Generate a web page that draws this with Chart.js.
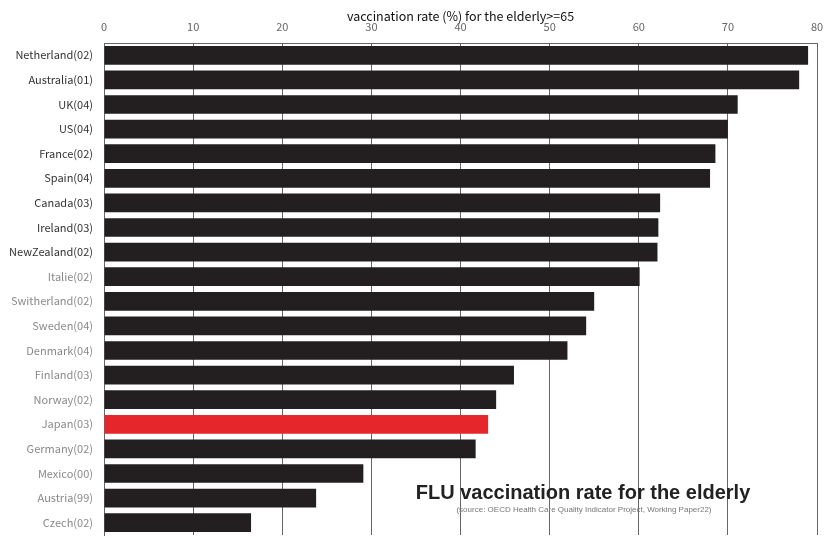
<!DOCTYPE html>
<html>
<head>
<meta charset="utf-8">
<script src="https://cdn.jsdelivr.net/npm/chart.js@4"></script>
<style>
  html, body { margin: 0; padding: 0; background: #fff; }
  #wrap { position: relative; width: 832px; height: 538px; }
  #title { position: absolute; left: 400px; width: 366px; top: 481px; text-align: center;
           font: bold 20px "Liberation Sans", Arial, sans-serif; color: #222; white-space: nowrap; }
  #sub { position: absolute; left: 434px; width: 300px; top: 505px; text-align: center;
         font: 8px "Liberation Sans", Arial, sans-serif; color: #777; white-space: nowrap; }
</style>
</head>
<body>
<div id="wrap">
  <canvas id="c" width="832" height="538"></canvas>
  <div id="title">FLU vaccination rate for the elderly</div>
  <div id="sub">(source: OECD Health Care Quality Indicator Project, Working Paper22)</div>
</div>
<script>
const countries = ["Netherland(02)", "Australia(01)", "UK(04)", "US(04)", "France(02)", "Spain(04)",
  "Canada(03)", "Ireland(03)", "NewZealand(02)", "Italie(02)", "Switherland(02)", "Sweden(04)",
  "Denmark(04)", "Finland(03)", "Norway(02)", "Japan(03)", "Germany(02)", "Mexico(00)",
  "Austria(99)", "Czech(02)"];
const rates = [79.0, 78.0, 71.1, 70.0, 68.6, 68.0, 62.4, 62.2, 62.1, 60.1, 55.0, 54.1,
  52.0, 46.0, 44.0, 43.1, 41.7, 29.1, 23.8, 16.5];
const xTicks = [0, 10, 20, 30, 40, 50, 60, 70, 80];
const highlight = "Japan(03)";
const axisTitle = "vaccination rate (%) for the elderly>=65";

const barColors = countries.map(c => c === highlight ? "#e5262b" : "#231f20");

new Chart(document.getElementById("c"), {
  type: "bar",
  data: {
    labels: countries,
    datasets: [{
      data: rates,
      backgroundColor: barColors,
      borderWidth: 0,
      categoryPercentage: 1,
      barPercentage: 0.76
    }]
  },
  options: {
    indexAxis: "y",
    responsive: false,
    animation: false,
    layout: { padding: { left: 0, right: 15, top: 0, bottom: 3 } },
    plugins: { legend: { display: false }, tooltip: { enabled: false } },
    scales: {
      x: {
        position: "top",
        min: 0, max: 80,
        afterBuildTicks: s => { s.ticks = xTicks.map(v => ({ value: v })); },
        afterFit: s => { s.height = 43; s.paddingLeft = 0; s.paddingRight = 0; },
        ticks: { padding: 10, color: "#666", font: { family: "Noto Sans CJK JP", size: 11 } },
        grid: { color: "#666", lineWidth: 1, drawTicks: false },
        border: { display: true, color: "#666" },
        title: {
          display: true, text: axisTitle, color: "#111",
          font: { family: "Noto Sans CJK JP", size: 12.5 },
          padding: { top: 9, bottom: 0 }
        }
      },
      y: {
        afterFit: s => { s.width = 104; s.paddingTop = 0; s.paddingBottom = 0; },
        ticks: {
          padding: 3,
          color: ctx => ctx.index < 9 ? "#333" : "#8a8a8a",
          font: { family: "Noto Sans CJK JP", size: 11 }
        },
        grid: { display: false },
        border: { display: true, color: "#666" }
      }
    }
  }
});
</script>
</body>
</html>
